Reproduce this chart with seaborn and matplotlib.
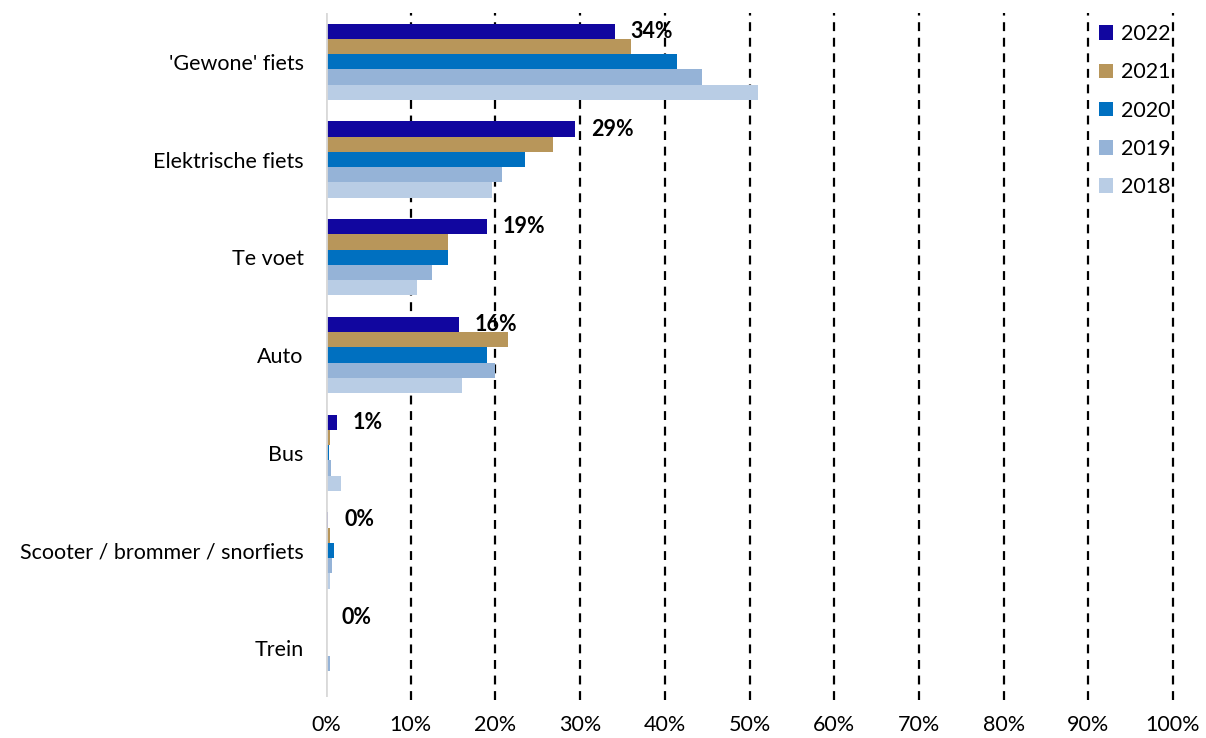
import matplotlib
matplotlib.use("Agg")
import matplotlib.pyplot as plt
import seaborn as sns
import pandas as pd
from matplotlib.patches import Patch

categories = ["'Gewone' fiets", "Elektrische fiets", "Te voet", "Auto", "Bus",
              "Scooter / brommer / snorfiets", "Trein"]
years = ["2022", "2021", "2020", "2019", "2018"]
v2022 = [34.1, 29.4, 19.0, 15.7, 1.3, 0.25, 0.0]
v2021 = [36.0, 26.8, 14.4, 21.5, 0.45, 0.45, 0.0]
v2020 = [41.4, 23.5, 14.4, 19.0, 0.3, 0.9, 0.0]
v2019 = [44.4, 20.8, 12.5, 20.0, 0.6, 0.7, 0.45]
v2018 = [51.0, 19.6, 10.7, 16.1, 1.8, 0.45, 0.0]
labels_2022 = ["34%", "29%", "19%", "16%", "1%", "0%", "0%"]
xticks = [0, 10, 20, 30, 40, 50, 60, 70, 80, 90, 100]
colors = ["#11069F", "#B8965A", "#0070C0", "#95B3D7", "#B9CDE5"]

series = {"2022": v2022, "2021": v2021, "2020": v2020, "2019": v2019, "2018": v2018}
rows = []
for y in years:
    for c, v in zip(categories, series[y]):
        rows.append({"cat": c, "year": y, "val": v})
df = pd.DataFrame(rows)

sns.set_theme(style="white")
plt.rcParams["font.family"] = ["Lato", "DejaVu Sans"]
plt.rcParams["text.color"] = "black"
plt.rcParams["xtick.color"] = "black"
plt.rcParams["ytick.color"] = "black"

FS = 15.5
fig = plt.figure(figsize=(12.06, 7.38), dpi=100)
ax = fig.add_axes([326/1206, 1-697/738, (1173-326)/1206, (697-13)/738])

sns.barplot(data=df, x="val", y="cat", hue="year", order=categories,
            hue_order=years, palette=colors, orient="h", width=0.78,
            saturation=1, errorbar=None, ax=ax, legend=False, linewidth=0)

ax.set_xlim(0, 100)
ax.set_ylim(len(categories) - 0.5, -0.5)
ax.set_xticks(xticks)
ax.set_xticklabels([f"{t}%" for t in xticks], fontsize=FS)
ax.tick_params(axis="x", length=0, pad=13, labelcolor="black")
ax.tick_params(axis="y", length=0, pad=16, labelsize=FS, labelcolor="black")
ax.set_xlabel("")
ax.set_ylabel("")
for s in ax.spines.values():
    s.set_visible(False)
for t in xticks[1:]:
    ax.axvline(t, color="black", lw=1.6, ls=(0, (4, 3)), zorder=0, ymin=-0.005, ymax=1.0, clip_on=False)
ax.axvline(0, color="#D9D9D9", lw=2, zorder=3)

n = len(years)
bw = 0.78 / n
for i, (v, lab) in enumerate(zip(v2022, labels_2022)):
    yc = i - 0.39 + bw / 2
    ax.annotate(lab, xy=(v, yc), xytext=(11.5, 0), textcoords="offset points",
                ha="left", va="center", fontsize=FS, fontweight="bold", color="black")

handles = [Patch(facecolor=c, edgecolor="none") for c in colors]
leg = ax.legend(handles, years, loc="upper left", bbox_to_anchor=(1099/1206, 1-24/738),
                bbox_transform=fig.transFigure, frameon=False, fontsize=FS,
                handlelength=0.65, handleheight=0.65, handletextpad=0.35, labelspacing=0.85,
                borderaxespad=0, borderpad=0)
for t in leg.get_texts():
    t.set_color("black")

fig.savefig("out.png", dpi=100, facecolor="white")
